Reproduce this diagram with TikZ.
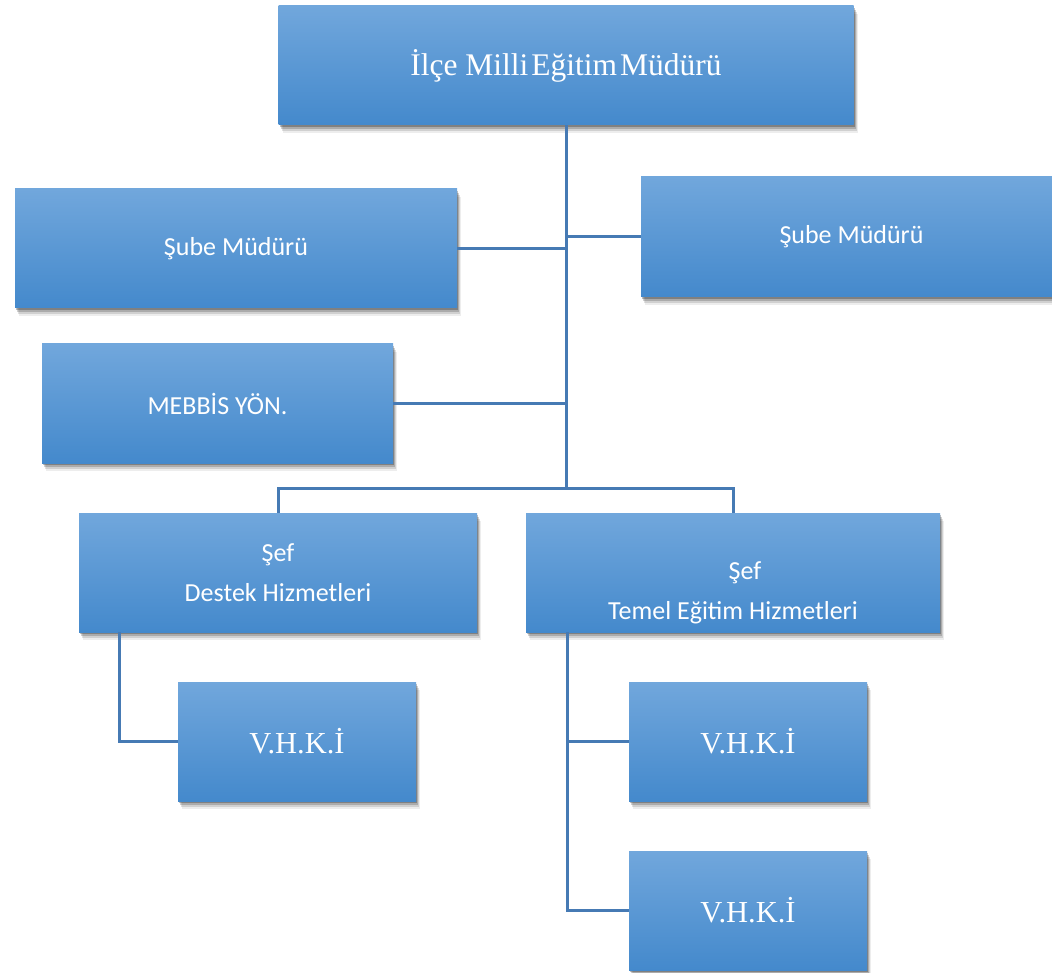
\documentclass[tikz,border=0pt]{standalone}
\usepackage{fontspec}
\setmainfont{Liberation Serif}
\newfontfamily\calfont{Carlito}
\usetikzlibrary{shadows}
\definecolor{boxtop}{RGB}{113,167,220}
\definecolor{boxmid}{RGB}{84,153,221}
\definecolor{boxbot}{RGB}{68,137,204}
\definecolor{linecol}{RGB}{70,122,180}
\tikzset{
  softshadow/.style={
    drop shadow={shadow xshift=1pt, shadow yshift=-2pt, opacity=0.25, fill=black},
    drop shadow={shadow xshift=2pt, shadow yshift=-4pt, opacity=0.18, fill=black},
    drop shadow={shadow xshift=3pt, shadow yshift=-6pt, opacity=0.12, fill=black},
    drop shadow={shadow xshift=4pt, shadow yshift=-8pt, opacity=0.07, fill=black}},
  orgbox/.style={rectangle, draw=none, inner sep=0pt, text=white,
    top color=boxtop, middle color=boxmid, bottom color=boxbot,
    softshadow, align=center},
  serifbig/.style={font=\fontsize{31.5}{36}\selectfont},
  seriflbl/.style={font=\fontsize{30.5}{36}\selectfont},
  sanslbl/.style={font=\calfont\fontsize{26}{40}\selectfont},
  conn/.style={draw=linecol, line width=3pt},
}
\begin{document}
\begin{tikzpicture}[x=1pt, y=-1pt]
\useasboundingbox (0,0) rectangle (1052,973);
% boxes
\node[orgbox, serifbig, minimum width=575pt, minimum height=119pt] (top) at (566,65.5)
  {İlçe Milli\hspace{3pt}Eğitim\hspace{3pt}Müdürü};
\node[orgbox, sanslbl, minimum width=442pt, minimum height=119pt] (subeL) at (236,248.5) {Şube Müdürü};
\node[orgbox, sanslbl, minimum width=421pt, minimum height=120pt] (subeR) at (851.5,237) {Şube Müdürü};
\node[orgbox, sanslbl, minimum width=351pt, minimum height=119pt] (mebbis) at (217.5,403.5) {MEBBİS YÖN.};
\node[orgbox, sanslbl, minimum width=398pt, minimum height=119pt] (destek) at (278,572.5)
  {Şef\\Destek Hizmetleri};
\node[orgbox, minimum width=414pt, minimum height=119pt,
  label={[sanslbl, text=white, align=center, yshift=-20pt]center:{\hspace*{24pt}Şef\\Temel Eğitim Hizmetleri}}]
  (temel) at (733,572.5) {};
\node[orgbox, seriflbl, minimum width=238pt, minimum height=119pt] (v1) at (297,741.5) {V.H.K.İ};
\node[orgbox, seriflbl, minimum width=238pt, minimum height=119pt] (v2) at (748,741.5) {V.H.K.İ};
\node[orgbox, seriflbl, minimum width=238pt, minimum height=119pt] (v3) at (748,910.5) {V.H.K.İ};
% connectors
\coordinate (bus) at (566,488);
\draw[conn] (top.south) -- (bus);
\draw[conn] (subeL.east) -- (subeL.east -| top.south);
\draw[conn] (subeR.west) -- (subeR.west -| top.south);
\draw[conn] (mebbis.east) -- (mebbis.east -| top.south);
\draw[conn] (destek.north) -- (destek.north |- bus) -- (temel.north |- bus) -- (temel.north);
\draw[conn] ([xshift=41pt]destek.south west) |- (v1.west);
\draw[conn] ([xshift=42pt]temel.south west) |- (v2.west);
\draw[conn] ([xshift=42pt]temel.south west) |- (v3.west);
\end{tikzpicture}
\end{document}
